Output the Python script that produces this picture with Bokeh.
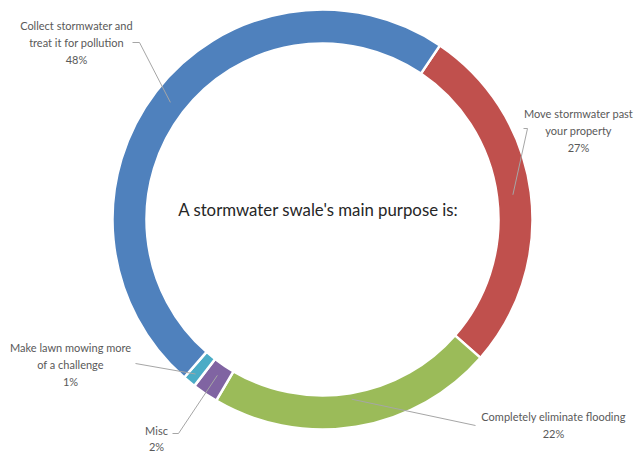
import numpy as np
from bokeh.plotting import figure
from bokeh.models import Range1d, ColumnDataSource
from bokeh.core.properties import value
from bokeh.embed import file_html
from bokeh.resources import INLINE

# ---- data (clockwise order, starting after the blue slice) ----
categories = ["Move stormwater past\nyour property",
              "Completely eliminate flooding",
              "Misc",
              "Make lawn mowing more\nof a challenge",
              "Collect stormwater and\ntreat it for pollution"]
percents = [27, 22, 2, 1, 48]
colors = ["#C0504D", "#9BBB59", "#8064A2", "#4BACC6", "#4F81BD"]
title_text = "A stormwater swale's main purpose is:"

# ---- layout ----
W, H = 636, 454
cx, cy = 322, H - 219
r_out, r_in = 210, 176
start_deg = 34.0  # clockwise from 12 o'clock

vals = np.array(percents, dtype=float)
frac = vals / vals.sum()
th_end = start_deg + np.cumsum(frac) * 360.0
th_start = th_end - frac * 360.0
a_start = np.pi / 2 - np.radians(th_start)
a_end = np.pi / 2 - np.radians(th_end)
th_mid = (th_start + th_end) / 2

p = figure(width=W, height=H, x_range=Range1d(0, W), y_range=Range1d(0, H),
           toolbar_location=None, output_backend="svg", min_border=0)
p.axis.visible = False
p.grid.visible = False
p.outline_line_color = None
p.background_fill_color = "white"

src = ColumnDataSource(dict(x=[cx] * len(vals), y=[cy] * len(vals),
                            start=list(a_end), end=list(a_start), color=colors))
p.annular_wedge(x="x", y="y", inner_radius=r_in, outer_radius=r_out,
                start_angle="start", end_angle="end", direction="anticlock",
                fill_color="color", line_color="white", line_width=2.5, source=src)

# label anchors (pixel coords: text centre x, middle y, leader start)
label_pos = [(578, 130), (553, 424.5), (156, 438), (70, 364), (76, 42)]
leader_start = [[(523, 128), (527, 128)],
                 [(475, 425)],
                 [(172, 433), (178, 433)],
                 [(135, 363)],
                 [(132, 42), (139, 42)]]
leader_r = [192, 182, 188, 200, 192]

xs, ys = [], []
for i in range(len(vals)):
    pts = list(leader_start[i])
    ang = np.radians(th_mid[i])
    ex = cx + leader_r[i] * np.sin(ang)
    ey_pix = 219 - leader_r[i] * np.cos(ang)
    pts.append((ex, ey_pix))
    xs.append([q[0] for q in pts])
    ys.append([H - q[1] for q in pts])
p.multi_line(xs=xs, ys=ys, line_color="#A6A6A6", line_width=1)

labels = [f"{c}\n{v}%" for c, v in zip(categories, percents)]
p.text(x=[q[0] for q in label_pos], y=[H - q[1] for q in label_pos], text=labels,
       text_font=value("Lato"), text_font_size="11px", text_color="#595959",
       text_align="center", text_baseline="middle", text_line_height=1.3)

p.text(x=[318], y=[H - 209], text=[title_text], text_font=value("Lato"),
       text_font_size="16.8px", text_color="#262626",
       text_align="center", text_baseline="middle")

open("out.html", "w").write(file_html(p, INLINE))
